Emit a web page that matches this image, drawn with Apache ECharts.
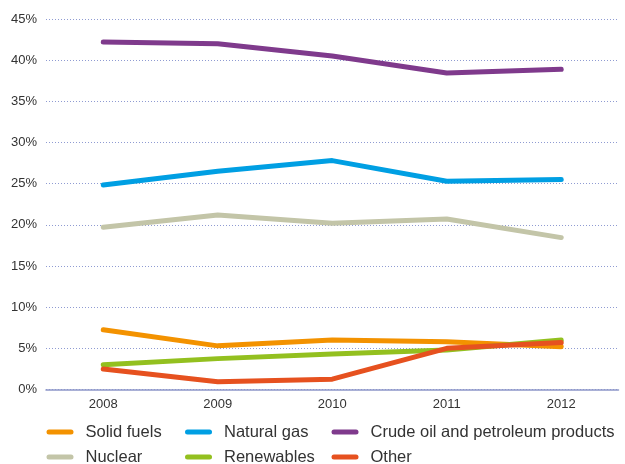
<!DOCTYPE html>
<html>
<head>
<meta charset="utf-8">
<script src="https://cdn.jsdelivr.net/npm/echarts@6/dist/echarts.min.js"></script>
<style>
html,body{margin:0;padding:0;background:#fff;}
#chart{width:625px;height:464px;}
</style>
</head>
<body>
<div id="chart"></div>
<script>
var years = ['2008', '2009', '2010', '2011', '2012'];
var solidFuels = [7.25, 5.3, 6.0, 5.8, 5.2];
var naturalGas = [24.85, 26.5, 27.8, 25.3, 25.5];
var crudeOil = [42.2, 42.0, 40.5, 38.45, 38.9];
var nuclear = [19.7, 21.2, 20.2, 20.7, 18.45];
var renewables = [3.0, 3.75, 4.3, 4.8, 6.0];
var other = [2.5, 0.95, 1.25, 5.0, 5.7];
var yTicks = [0, 5, 10, 15, 20, 25, 30, 35, 40, 45];

var FONT = 'Liberation Sans';
var colors = {
  'Solid fuels': '#f39200',
  'Natural gas': '#009fe3',
  'Crude oil and petroleum products': '#7f3a8c',
  'Nuclear': '#c3c5a8',
  'Renewables': '#93c01f',
  'Other': '#e6511f'
};
var capsule = 'path://M2.5,0H24.5A2.5,2.5,0,0,1,24.5,5H2.5A2.5,2.5,0,0,1,2.5,0Z';

function mk(name, data, z) {
  return {
    name: name, type: 'line', data: data, z: z,
    symbol: 'none', smooth: false,
    lineStyle: { width: 5, color: colors[name], cap: 'round', join: 'round' },
    itemStyle: { color: colors[name] }
  };
}

function legendCol(left, names) {
  return {
    left: left, top: 423.5, orient: 'vertical', padding: 0,
    width: 300, height: 60,
    icon: capsule, itemWidth: 27, itemHeight: 5, itemGap: 8,
    data: names,
    textStyle: { fontFamily: FONT, fontSize: 16.5, lineHeight: 16, color: '#333', padding: [0, 0, 0, 7] }
  };
}

var chart = echarts.init(document.getElementById('chart'), null, { renderer: 'canvas' });
chart.setOption({
  animation: false,
  backgroundColor: '#fff',
  grid: { left: 46, right: 6.5, top: 19, bottom: 74.5, containLabel: false },
  legend: [
    legendCol(46.5, ['Solid fuels', 'Nuclear']),
    legendCol(185, ['Natural gas', 'Renewables']),
    legendCol(331.5, ['Crude oil and petroleum products', 'Other'])
  ],
  xAxis: {
    type: 'category', data: years, boundaryGap: true,
    axisLine: { show: true, lineStyle: { color: '#8d97c9', width: 1.5 } },
    axisTick: { show: false },
    axisLabel: { fontFamily: FONT, fontSize: 13, color: '#333', margin: 8 }
  },
  yAxis: {
    type: 'value', min: 0, max: 45, interval: 5,
    axisLine: { show: false }, axisTick: { show: false },
    axisLabel: {
      fontFamily: FONT, fontSize: 13, color: '#333', margin: 9,
      formatter: function (v) { return yTicks.indexOf(v) >= 0 ? v + '%' : ''; }
    },
    splitLine: { show: true, lineStyle: { color: '#8f9bd2', type: [1, 2], width: 1 } }
  },
  series: [
    mk('Solid fuels', solidFuels, 2),
    mk('Nuclear', nuclear, 3),
    mk('Natural gas', naturalGas, 4),
    mk('Renewables', renewables, 5),
    mk('Crude oil and petroleum products', crudeOil, 6),
    mk('Other', other, 7)
  ]
});
</script>
</body>
</html>
